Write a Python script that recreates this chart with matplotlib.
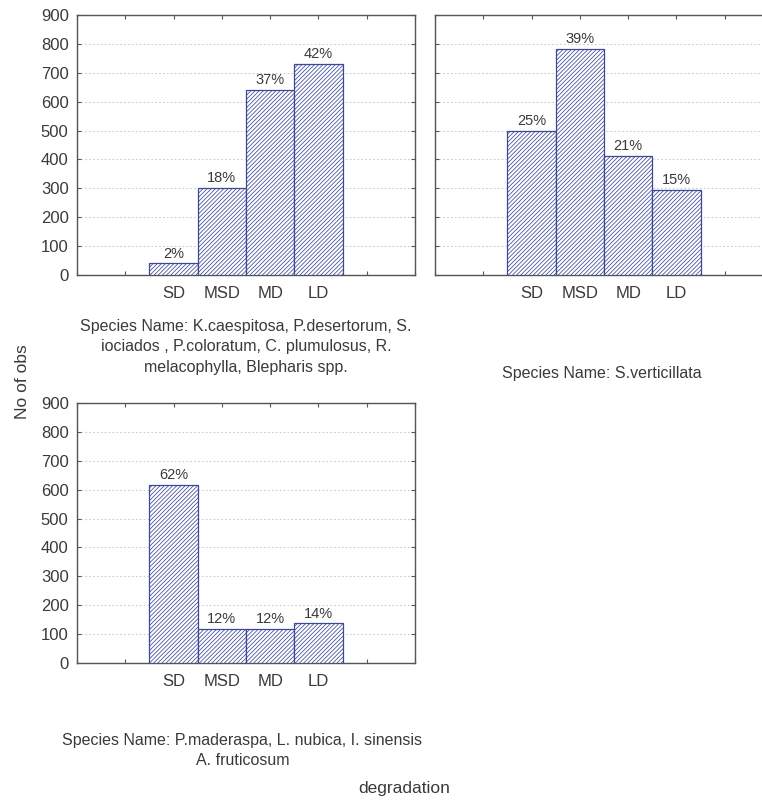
import matplotlib
matplotlib.use("Agg")
import matplotlib.pyplot as plt

# degradation classes
categories = ['SD', 'MSD', 'MD', 'LD']

obs_group1 = [40, 302, 640, 730]
obs_group2 = [500, 782, 413, 294]
obs_group3 = [615, 118, 118, 137]

pct_group1 = ['2%', '18%', '37%', '42%']
pct_group2 = ['25%', '39%', '21%', '15%']
pct_group3 = ['62%', '12%', '12%', '14%']

caption1 = ("Species Name: K.caespitosa, P.desertorum, S.\n"
            "iociados , P.coloratum, C. plumulosus, R.\n"
            "melacophylla, Blepharis spp.")
caption2 = "Species Name: S.verticillata"
caption3 = ("Species Name: P.maderaspa, L. nubica, I. sinensis\n"
            "A. fruticosum")

yticks = list(range(0, 1000, 100))

plt.rcParams['font.family'] = ['Liberation Sans', 'DejaVu Sans']
plt.rcParams['hatch.linewidth'] = 0.55
plt.rcParams['hatch.color'] = '#7a80a2'

text_col = '#3a3a3a'
edge_col = '#3c4896'

fig = plt.figure(figsize=(7.62, 8.01), dpi=100)


def draw_panel(rect, values, pcts, show_ylabels):
    ax = fig.add_axes(rect)
    pos = list(range(len(categories)))
    ax.bar(pos, values, width=1.0, color='white', edgecolor=edge_col,
           linewidth=0.9, hatch='////////', zorder=3)
    for p, v, t in zip(pos, values, pcts):
        ax.text(p, v + 10, t, ha='center', va='bottom', fontsize=10.5,
                color=text_col, zorder=4)
    ax.set_xlim(-2, 5)
    ax.set_ylim(0, 900)
    ax.set_xticks(range(-2, 6))
    ax.set_xticklabels([''] * 2 + categories + [''] * 2)
    ax.set_yticks(yticks)
    if not show_ylabels:
        ax.set_yticklabels([])
    ax.tick_params(direction='in', length=3, width=0.8, top=True, right=True,
                   colors='#555555', labelcolor=text_col, labelsize=12)
    ax.tick_params(axis='x', pad=8)
    ax.tick_params(axis='y', pad=6)
    ax.yaxis.grid(True, linestyle=(0, (1.5, 2)), color='#cccccc', linewidth=0.8, zorder=0)
    for s in ax.spines.values():
        s.set_color('#555555')
        s.set_linewidth(1.0)
    return ax


draw_panel([0.1010, 0.6567, 0.4436, 0.3246], obs_group1, pct_group1, True)
draw_panel([0.5709, 0.6567, 0.4436, 0.3246], obs_group2, pct_group2, False)
draw_panel([0.1010, 0.1723, 0.4436, 0.3246], obs_group3, pct_group3, True)

fig.text(0.323, 0.5668, caption1, ha='center', va='center', fontsize=11.5,
         color=text_col, linespacing=1.45)
fig.text(0.790, 0.5343, caption2, ha='center', va='center', fontsize=11.5,
         color=text_col)
fig.text(0.318, 0.0630, caption3, ha='center', va='center', fontsize=11.5,
         color=text_col, linespacing=1.45)
fig.text(0.530, 0.0162, 'degradation', ha='center', va='center', fontsize=12.5,
         color=text_col)
fig.text(0.029, 0.523, 'No of obs', ha='center', va='center', rotation=90,
         fontsize=12.5, color=text_col)

fig.savefig('out.png', dpi=100)
